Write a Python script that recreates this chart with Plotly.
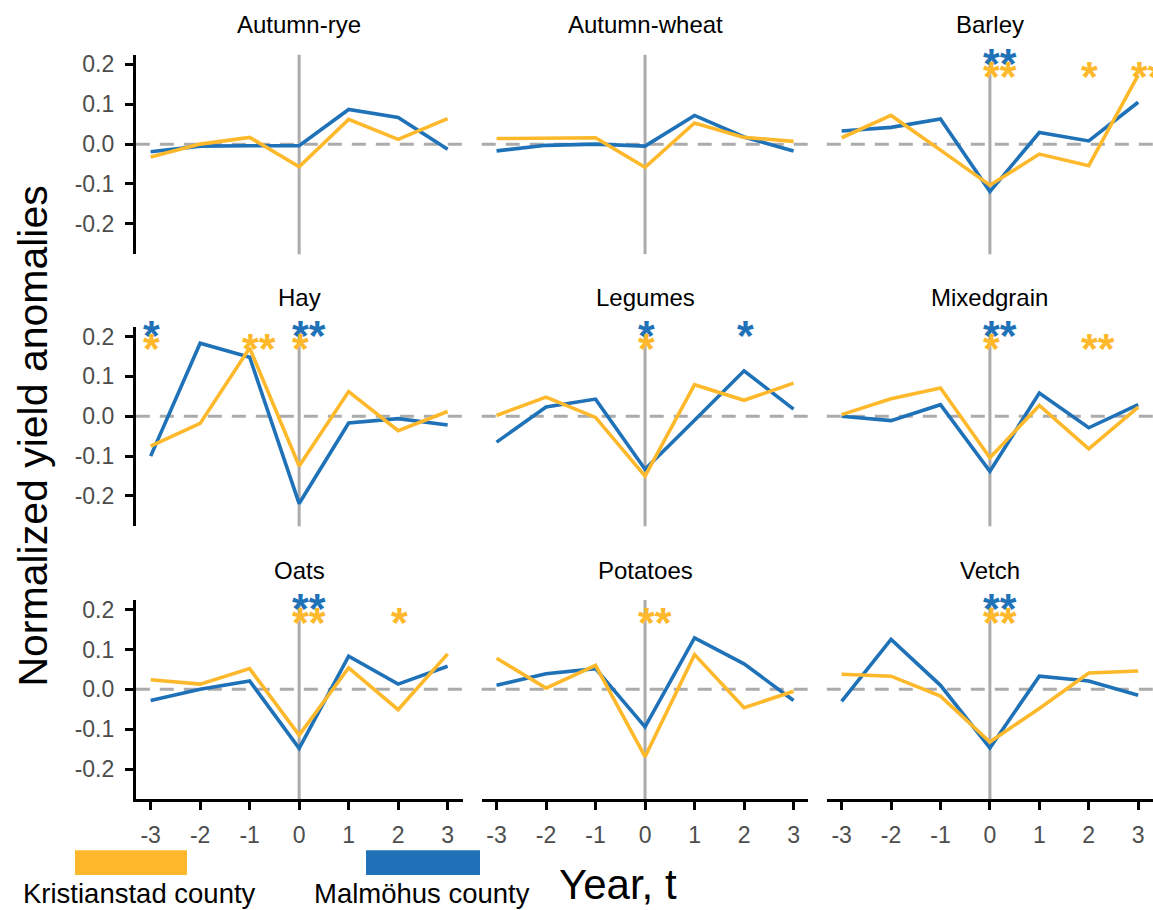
import plotly.graph_objects as go

# ---- data -------------------------------------------------------------
years = [-3, -2, -1, 0, 1, 2, 3]
year_ticks = ["-3", "-2", "-1", "0", "1", "2", "3"]
yield_ticks = [0.2, 0.1, 0.0, -0.1, -0.2]
yield_tick_labels = ["0.2", "0.1", "0.0", "-0.1", "-0.2"]

crops = ["Autumn-rye", "Autumn-wheat", "Barley",
         "Hay", "Legumes", "Mixedgrain",
         "Oats", "Potatoes", "Vetch"]

counties = ["Kristianstad county", "Malmöhus county"]

# Kristianstad county anomalies
autumn_rye_k = [-0.032, 0.000, 0.017, -0.057, 0.062, 0.012, 0.064]
autumn_wheat_k = [0.014, 0.015, 0.016, -0.058, 0.053, 0.017, 0.007]
barley_k = [0.016, 0.072, -0.015, -0.103, -0.025, -0.054, 0.173]
hay_k = [-0.075, -0.018, 0.171, -0.125, 0.062, -0.036, 0.012]
legumes_k = [0.002, 0.048, -0.003, -0.150, 0.079, 0.040, 0.083]
mixedgrain_k = [0.004, 0.044, 0.071, -0.104, 0.027, -0.082, 0.023]
oats_k = [0.024, 0.013, 0.052, -0.115, 0.054, -0.051, 0.089]
potatoes_k = [0.078, 0.003, 0.060, -0.169, 0.087, -0.046, -0.005]
vetch_k = [0.038, 0.033, -0.017, -0.132, -0.048, 0.041, 0.046]

# Malmöhus county anomalies
autumn_rye_m = [-0.019, -0.005, -0.004, -0.004, 0.087, 0.067, -0.013]
autumn_wheat_m = [-0.017, -0.003, 0.000, -0.005, 0.072, 0.018, -0.017]
barley_m = [0.033, 0.042, 0.063, -0.119, 0.029, 0.008, 0.105]
hay_m = [-0.100, 0.183, 0.148, -0.219, -0.017, -0.006, -0.022]
legumes_m = [-0.065, 0.023, 0.043, -0.133, -0.010, 0.114, 0.018]
mixedgrain_m = [0.000, -0.011, 0.029, -0.138, 0.058, -0.029, 0.029]
oats_m = [-0.028, 0.000, 0.021, -0.148, 0.083, 0.013, 0.058]
potatoes_m = [0.010, 0.039, 0.052, -0.094, 0.129, 0.064, -0.028]
vetch_m = [-0.030, 0.125, 0.010, -0.147, 0.033, 0.021, -0.015]

# significance markers per year (Kristianstad / Malmöhus)
no_stars = ["", "", "", "", "", "", ""]
barley_stars_k = ["", "", "", "**", "", "*", "**"]
barley_stars_m = ["", "", "", "**", "", "", ""]
hay_stars_k = ["*", "", "**", "*", "", "", ""]
hay_stars_m = ["*", "", "", "**", "", "", ""]
legumes_stars_k = ["", "", "", "*", "", "", ""]
legumes_stars_m = ["", "", "", "*", "", "*", ""]
mixedgrain_stars_k = ["", "", "", "*", "", "**", ""]
mixedgrain_stars_m = ["", "", "", "**", "", "", ""]
oats_stars_k = ["", "", "", "**", "", "*", ""]
oats_stars_m = ["", "", "", "**", "", "", ""]
potatoes_stars_k = ["", "", "", "**", "", "", ""]
vetch_stars_k = ["", "", "", "**", "", "", ""]
vetch_stars_m = ["", "", "", "**", "", "", ""]

# height at which the markers are printed for each county
star_level_k = 0.175
star_level_m = 0.208

series_k = [autumn_rye_k, autumn_wheat_k, barley_k, hay_k, legumes_k,
            mixedgrain_k, oats_k, potatoes_k, vetch_k]
series_m = [autumn_rye_m, autumn_wheat_m, barley_m, hay_m, legumes_m,
            mixedgrain_m, oats_m, potatoes_m, vetch_m]
stars_k = [no_stars, no_stars, barley_stars_k, hay_stars_k, legumes_stars_k,
           mixedgrain_stars_k, oats_stars_k, potatoes_stars_k, vetch_stars_k]
stars_m = [no_stars, no_stars, barley_stars_m, hay_stars_m, legumes_stars_m,
           mixedgrain_stars_m, oats_stars_m, no_stars, vetch_stars_m]

# ---- styling ----------------------------------------------------------
W, H = 1153, 910
ORANGE = "#FDB92B"
BLUE = "#1F72B8"
REF_GREY = "#ABABAB"
FONT = "Arial, Liberation Sans, sans-serif"

col_px = [(135.8, 462.5), (481.7, 808.4), (826.8, 1153.0)]
row_px = [(52.0, 252.0), (325.0, 525.0), (599.0, 799.0)]
x_range = [-3.3, 3.3]
y_range = [-0.276, 0.224]

STAR_SIZE = 43
STAR_HALF = 0.389 * STAR_SIZE / 2

fig = go.Figure()
layout = dict(
    width=W, height=H,
    margin=dict(l=0, r=0, t=0, b=0),
    paper_bgcolor="white", plot_bgcolor="white",
    showlegend=False,
    font=dict(family=FONT, color="black"),
)
shapes = []
annotations = []

for i, crop in enumerate(crops):
    r, c = divmod(i, 3)
    n = i + 1
    xa = f"xaxis{'' if n == 1 else n}"
    ya = f"yaxis{'' if n == 1 else n}"
    xr = f"x{'' if n == 1 else n}"
    yr = f"y{'' if n == 1 else n}"

    x0, x1 = col_px[c]
    y0, y1 = row_px[r]
    bottom = r == 2
    left = c == 0

    layout[xa] = dict(
        domain=[x0 / W, x1 / W], range=x_range, anchor=yr,
        showgrid=False, zeroline=False,
        showline=bottom, linecolor="black", linewidth=2.8,
        ticks="outside" if bottom else "", ticklen=8, tickwidth=2.8,
        tickcolor="black",
        tickvals=years, ticktext=year_ticks,
        showticklabels=bottom,
        tickfont=dict(size=23, color="#4D4D4D", family=FONT),
        ticklabelstandoff=5,
    )
    layout[ya] = dict(
        domain=[1 - y1 / H, 1 - y0 / H], range=y_range, anchor=xr,
        showgrid=False, zeroline=False,
        showline=left, linecolor="black", linewidth=2.8,
        ticks="outside" if left else "", ticklen=8, tickwidth=2.8,
        tickcolor="black",
        tickvals=yield_ticks, ticktext=yield_tick_labels,
        showticklabels=left,
        tickfont=dict(size=23, color="#4D4D4D", family=FONT),
        ticklabelstandoff=6,
    )

    # reference lines: event year and zero anomaly
    shapes.append(dict(type="line", xref=xr, yref=f"{yr} domain",
                       x0=0, x1=0, y0=0, y1=1, layer="below",
                       line=dict(color=REF_GREY, width=3)))
    shapes.append(dict(type="line", xref=f"{xr} domain", yref=yr,
                       x0=0, x1=1, y0=0, y1=0, layer="below",
                       line=dict(color=REF_GREY, width=3, dash="14px,10px")))

    fig.add_trace(go.Scatter(x=years, y=series_m[i], mode="lines",
                             xaxis=xr, yaxis=yr, name=counties[1],
                             line=dict(color=BLUE, width=3.6)))
    fig.add_trace(go.Scatter(x=years, y=series_k[i], mode="lines",
                             xaxis=xr, yaxis=yr, name=counties[0],
                             line=dict(color=ORANGE, width=3.6)))

    # significance markers
    for marks, level, colour in ((stars_m[i], star_level_m, BLUE),
                                 (stars_k[i], star_level_k, ORANGE)):
        for yr_val, s in zip(years, marks):
            if s:
                annotations.append(dict(
                    x=yr_val, y=level, xref=xr, yref=yr,
                    text=f"<b>{s}</b>",
                    showarrow=False, xanchor="left", yanchor="middle",
                    xshift=-STAR_HALF - 1, yshift=-2,
                    font=dict(size=STAR_SIZE, color=colour, family=FONT)))

    # panel title
    annotations.append(dict(
        x=(x0 + x1) / 2 / W, y=1 - (y0 - 30) / H, xref="paper", yref="paper",
        text=crop, showarrow=False, xanchor="center", yanchor="middle",
        font=dict(size=24, color="black", family=FONT)))

# axis titles
annotations.append(dict(
    x=33 / W, y=1 - 435 / H, xref="paper", yref="paper",
    text="Normalized yield anomalies", textangle=-90, showarrow=False,
    xanchor="center", yanchor="middle",
    font=dict(size=41, color="black", family=FONT)))
annotations.append(dict(
    x=618 / W, y=1 - 884 / H, xref="paper", yref="paper",
    text="Year, t", showarrow=False, xanchor="center", yanchor="middle",
    font=dict(size=42, color="black", family=FONT)))

# legend keys
legend_keys = [(counties[0], ORANGE, 75, 187, 139), (counties[1], BLUE, 366, 480, 422)]
for label, colour, kx0, kx1, tx in legend_keys:
    shapes.append(dict(type="rect", xref="paper", yref="paper",
                       x0=kx0 / W, x1=kx1 / W, y0=1 - 875 / H, y1=1 - 850 / H,
                       fillcolor=colour, line=dict(width=0)))
    annotations.append(dict(
        x=tx / W, y=1 - 893 / H, xref="paper", yref="paper",
        text=label, showarrow=False, xanchor="center", yanchor="middle",
        font=dict(size=27.5, color="black", family=FONT)))

layout["shapes"] = shapes
layout["annotations"] = annotations
fig.update_layout(**layout)

fig.write_html("out.html")
